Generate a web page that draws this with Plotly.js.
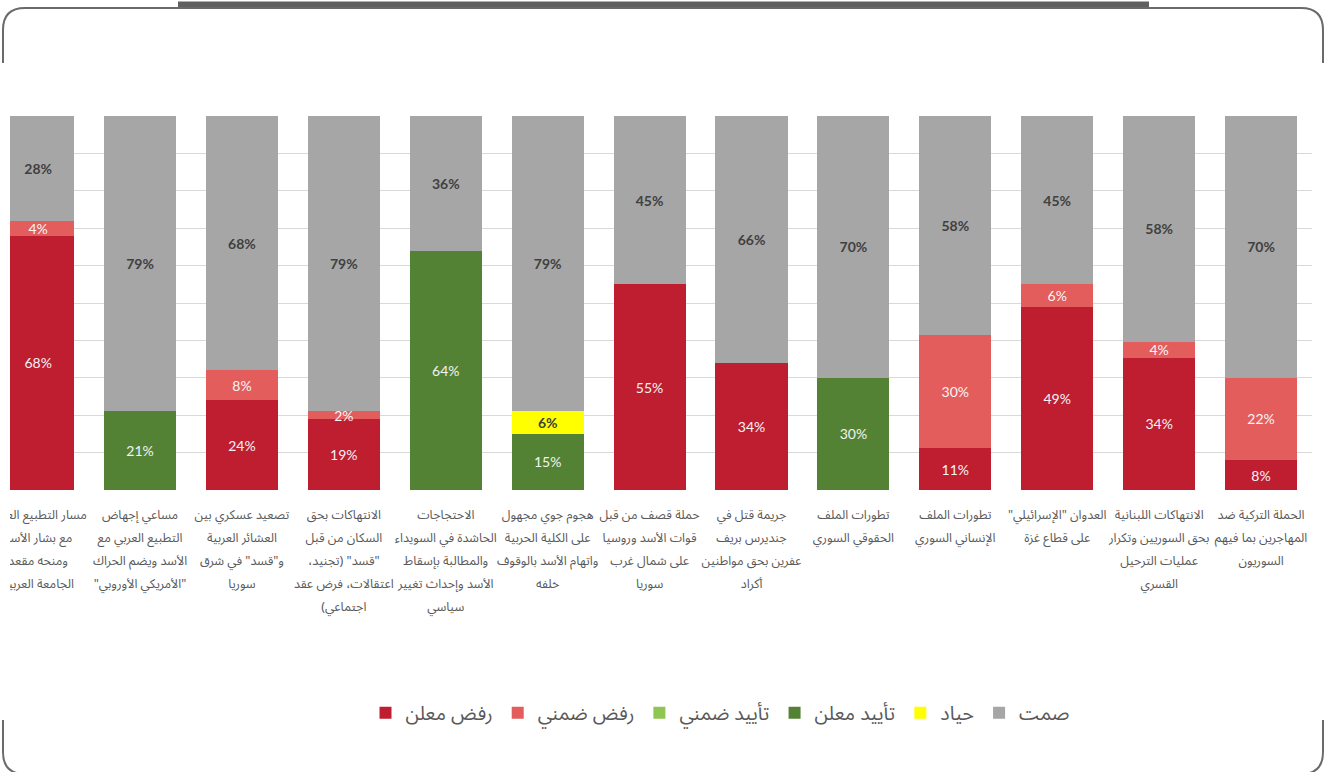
<!DOCTYPE html>
<html>
<head>
<meta charset="utf-8">
<script src="https://cdn.plot.ly/plotly-3.0.1.min.js"></script>
<style>
  html, body { margin: 0; padding: 0; background: #ffffff; }
  #chart { width: 1332px; height: 772px; }
</style>
</head>
<body>
<div id="chart"></div>
<script>
// ---- Data ----
const categoryLines = [
  ["مسار التطبيع العربي", "مع بشار الأسد", "ومنحه مقعد", "الجامعة العربية"],
  ["مساعي إجهاض", "التطبيع العربي مع", "الأسد ويضم الحراك", "\"الأمريكي الأوروبي\""],
  ["تصعيد عسكري بين", "العشائر العربية", "و\"قسد\" في شرق", "سوريا"],
  ["الانتهاكات بحق", "السكان من قبل", "\"قسد\" (تجنيد،", "اعتقالات، فرض عقد", "اجتماعي)"],
  ["الاحتجاجات", "الحاشدة في السويداء", "والمطالبة بإسقاط", "الأسد وإحداث تغيير", "سياسي"],
  ["هجوم جوي مجهول", "على الكلية الحربية", "واتهام الأسد بالوقوف", "خلفه"],
  ["حملة قصف من قبل", "قوات الأسد وروسيا", "على شمال غرب", "سوريا"],
  ["جريمة قتل في", "جنديرس بريف", "عفرين بحق مواطنين", "أكراد"],
  ["تطورات الملف", "الحقوقي السوري"],
  ["تطورات الملف", "الإنساني السوري"],
  ["العدوان \"الإسرائيلي\"", "على قطاع غزة"],
  ["الانتهاكات اللبنانية", "بحق السوريين وتكرار", "عمليات الترحيل", "القسري"],
  ["الحملة التركية ضد", "المهاجرين بما فيهم", "السوريون"]
];

const seriesNames = ["رفض معلن", "رفض ضمني", "تأييد ضمني", "تأييد معلن", "حياد", "صمت"];

const rejectDeclared  = [68, null, 24, 19, null, null, 55, 34, null, 11, 49, 34, 8];
const rejectImplicit  = [4, null, 8, 2, null, null, null, null, null, 30, 6, 4, 22];
const supportImplicit = [null, null, null, null, null, null, null, null, null, null, null, null, null];
const supportDeclared = [null, 21, null, null, 64, 15, null, null, 30, null, null, null, null];
const neutral         = [null, null, null, null, null, 6, null, null, null, null, null, null, null];
const silence         = [28, 79, 68, 79, 36, 79, 45, 66, 70, 58, 45, 58, 70];

// ---- Styling ----
const seriesValues = [rejectDeclared, rejectImplicit, supportImplicit, supportDeclared, neutral, silence];
const seriesColors = ["#BE1E30", "#E35D5D", "#8FC553", "#548235", "#FFFF00", "#A6A6A6"];
const labelColors  = ["#F4F4F4", "#F6F6F6", "#FFFFFF", "#F2F2F2", "#404040", "#404040"];
const labelWeights = [400, 400, 400, 400, 700, 700];

const RLM = '\u200F';
const rtl = s => RLM + s + RLM;

const xIdx = categoryLines.map((_, i) => i);
const tickTexts = categoryLines.map(lines =>
  lines.map(l => '<span style="font-size:12.5px">' + rtl(l) + '</span>').join('<br>')
);

const traces = seriesValues.map((vals, k) => ({
  type: 'bar',
  name: rtl(seriesNames[k]),
  x: xIdx,
  y: vals,
  text: vals.map(v => v == null ? '' : v + '%'),
  texttemplate: '%{text}',
  textposition: 'inside',
  insidetextanchor: 'middle',
  textangle: 0,
  constraintext: 'none',
  cliponaxis: true,
  insidetextfont: { family: 'Lato, "Open Sans", sans-serif', size: 14, color: labelColors[k], weight: labelWeights[k] },
  textfont: { family: 'Lato, "Open Sans", sans-serif', size: 14, color: labelColors[k], weight: labelWeights[k] },
  marker: { color: seriesColors[k], line: { width: 0 } },
  width: 0.707,
  hoverinfo: 'skip'
}));

// pixel -> paper helpers for decorative frame
const L = 10, R = 1312, T = 116, B = 490;
const px = x => (x - L) / (R - L);
const py = y => (B - y) / (B - T);
const P = (x, y) => px(x).toFixed(5) + ',' + py(y).toFixed(5);

const frameTop = 'M' + P(3, 63) + ' L' + P(3, 30) + ' Q' + P(3, 8) + ' ' + P(25, 8) +
  ' L' + P(1301, 8) + ' Q' + P(1323, 8) + ' ' + P(1323, 30) + ' L' + P(1323, 63);
const frameBL = 'M' + P(3, 720) + ' L' + P(3, 752) + ' Q' + P(3, 774) + ' ' + P(25, 774);
const frameBR = 'M' + P(1323, 720) + ' L' + P(1323, 752) + ' Q' + P(1323, 774) + ' ' + P(1301, 774);

const layout = {
  width: 1332,
  height: 772,
  margin: { l: L, r: 1332 - R, t: T, b: 772 - B, pad: 0 },
  paper_bgcolor: '#ffffff',
  plot_bgcolor: '#ffffff',
  barmode: 'stack',
  barnorm: 'percent',
  showlegend: true,
  font: { family: '"Noto Sans Arabic", "DejaVu Sans", sans-serif', color: '#595959' },
  xaxis: {
    range: [-0.276, 12.5],
    tickmode: 'array',
    tickvals: xIdx,
    ticktext: tickTexts,
    tickangle: 0,
    ticks: '',
    ticklabeloverflow: 'allow',
    ticklabelstandoff: 10,
    showgrid: false,
    zeroline: false,
    showline: false,
    tickfont: { size: 17.8, color: '#595959' },
    fixedrange: true
  },
  yaxis: {
    range: [0, 100],
    dtick: 10,
    showticklabels: false,
    showgrid: true,
    gridcolor: '#D9D9D9',
    gridwidth: 1,
    zeroline: false,
    showline: false,
    ticks: '',
    fixedrange: true
  },
  legend: {
    orientation: 'h',
    x: px(720),
    xanchor: 'center',
    y: py(713),
    yanchor: 'middle',
    font: { size: 19.5, color: '#595959' },
    traceorder: 'normal',
    bgcolor: 'rgba(0,0,0,0)'
  },
  shapes: [
    { type: 'rect', xref: 'paper', yref: 'paper', layer: 'above',
      x0: px(-40), x1: px(10), y0: py(495), y1: py(690),
      fillcolor: '#ffffff', line: { width: 0 } },
    { type: 'rect', xref: 'paper', yref: 'paper', layer: 'above',
      x0: px(178), x1: px(1149), y0: py(9), y1: py(1.5),
      fillcolor: '#606060', line: { width: 0 } },
    { type: 'path', xref: 'paper', yref: 'paper', layer: 'above', path: frameTop,
      line: { color: '#6A6A6A', width: 2 } },
    { type: 'path', xref: 'paper', yref: 'paper', layer: 'above', path: frameBL,
      line: { color: '#6A6A6A', width: 2 } },
    { type: 'path', xref: 'paper', yref: 'paper', layer: 'above', path: frameBR,
      line: { color: '#6A6A6A', width: 2 } }
  ]
};

Plotly.newPlot('chart', traces, layout, { displayModeBar: false, staticPlot: true });
</script>
</body>
</html>
